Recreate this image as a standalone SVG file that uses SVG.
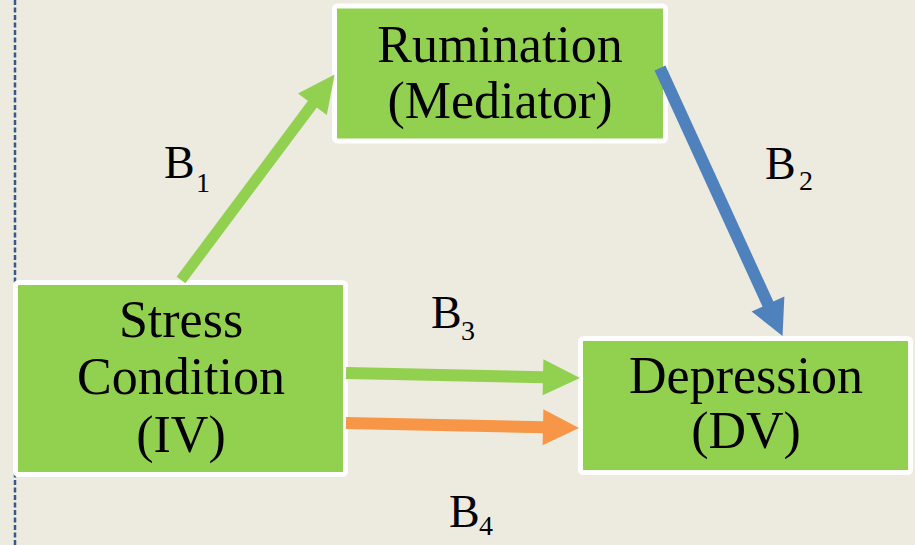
<svg xmlns="http://www.w3.org/2000/svg" width="915" height="545" viewBox="0 0 915 545">
<style>
.bg{fill:#EDEAE0}
.node rect{fill:#92D050;stroke:#FFFFFF;stroke-width:5}
.node text{font-family:"Liberation Serif","Times New Roman",serif;font-size:52px;fill:#000;text-anchor:middle}
.lbl{font-family:"Liberation Serif","Times New Roman",serif;font-size:46px;fill:#000}
.sub{font-size:28px}
.c{fill:none;stroke-linecap:butt}
</style>
<defs>
<marker id="hg" markerUnits="userSpaceOnUse" markerWidth="40" markerHeight="40" viewBox="0 -20 40 40" refX="1" refY="0" orient="auto" overflow="visible"><path d="M0,-18 L37,0 L0,18z" fill="#92D050"/></marker>
<marker id="hb" markerUnits="userSpaceOnUse" markerWidth="40" markerHeight="40" viewBox="0 -20 40 40" refX="1" refY="0" orient="auto" overflow="visible"><path d="M0,-18 L35,0 L0,18z" fill="#4F81BD"/></marker>
<marker id="ho" markerUnits="userSpaceOnUse" markerWidth="40" markerHeight="40" viewBox="0 -20 40 40" refX="1" refY="0" orient="auto" overflow="visible"><path d="M0,-18 L36,0 L0,18z" fill="#F79646"/></marker>
</defs>
<rect class="bg" x="0" y="0" width="915" height="545"/>
<line x1="15" y1="0" x2="15" y2="545" stroke="#2F5A96" stroke-width="2.5" stroke-dasharray="5 2.5"/>

<g id="rumination" class="node">
<rect x="334.5" y="6" width="331" height="135" rx="3"/>
<text x="500" y="62">Rumination</text>
<text x="500" y="118">(Mediator)</text>
</g>
<g id="stress" class="node">
<rect x="15.5" y="282.5" width="330" height="192" rx="3"/>
<text x="181" y="337">Stress</text>
<text x="181" y="394">Condition</text>
<text x="181" y="452">(IV)</text>
</g>
<g id="depression" class="node">
<rect x="580.5" y="338.5" width="330" height="134" rx="3"/>
<text x="746" y="393">Depression</text>
<text x="746" y="448">(DV)</text>
</g>

<g id="connectors">
<line class="c" x1="181" y1="280" x2="313" y2="103.4" stroke="#92D050" stroke-width="11" marker-end="url(#hg)"/>
<line class="c" x1="660" y1="68" x2="768.4" y2="305" stroke="#4F81BD" stroke-width="12" marker-end="url(#hb)"/>
<line class="c" x1="346" y1="373" x2="544" y2="377.2" stroke="#92D050" stroke-width="12" marker-end="url(#hg)"/>
<line class="c" x1="346" y1="423" x2="544" y2="427.2" stroke="#F79646" stroke-width="12" marker-end="url(#ho)"/>
</g>

<g id="labels">
<text class="lbl" x="164" y="178">B<tspan class="sub" x="196" y="192">1</tspan></text>
<text class="lbl" x="765" y="179">B<tspan class="sub" x="799" y="190">2</tspan></text>
<text class="lbl" x="431" y="328">B<tspan class="sub" x="461" y="340">3</tspan></text>
<text class="lbl" x="449" y="527">B<tspan class="sub" x="479" y="535">4</tspan></text>
</g>
</svg>
